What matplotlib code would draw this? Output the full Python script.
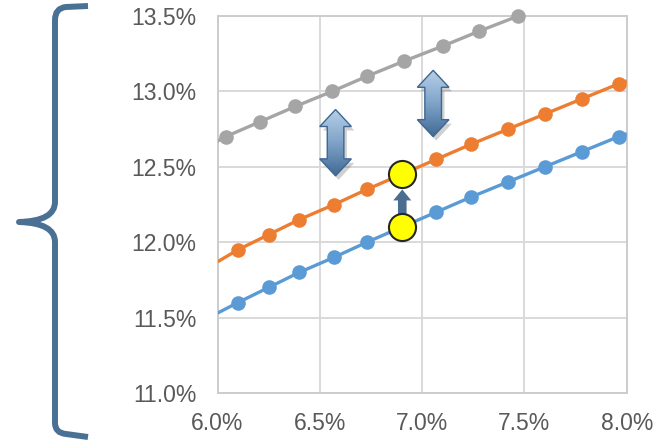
import matplotlib
matplotlib.use('Agg')
import numpy as np
import matplotlib.pyplot as plt
from matplotlib.patches import Polygon, PathPatch
from matplotlib.path import Path
from matplotlib.colors import LinearSegmentedColormap

# series (x and y in percent)
x_pts = [6.10, 6.25, 6.40, 6.57, 6.73, 6.90, 7.07, 7.24, 7.42, 7.60, 7.78, 7.96]
blue_y = [11.6, 11.7, 11.8, 11.9, 12.0, 12.1, 12.2, 12.3, 12.4, 12.5, 12.6, 12.7]
orange_y = [11.95, 12.05, 12.15, 12.25, 12.35, 12.45, 12.55, 12.65, 12.75, 12.85, 12.95, 13.05]
gray_x = [6.04, 6.21, 6.38, 6.56, 6.73, 6.91, 7.10, 7.28, 7.47]
gray_y = [12.7, 12.8, 12.9, 13.0, 13.1, 13.2, 13.3, 13.4, 13.5]
# where the lines meet the plot edges
blue_edge = [11.53, 12.72]
orange_edge = [11.87, 13.07]
gray_edge = [12.67]
hi_idx = 5   # highlighted point on blue / orange

x_ticks = [6.0, 6.5, 7.0, 7.5, 8.0]
y_ticks = [11.0, 11.5, 12.0, 12.5, 13.0, 13.5]

plt.rcParams['font.family'] = ['Liberation Sans', 'DejaVu Sans']

fig = plt.figure(figsize=(6.68, 4.46), dpi=100)
ax = fig.add_axes([0.3256, 0.1188, 0.6126, 0.8453])
ax.set_xlim(6.0, 8.0)
ax.set_ylim(11.0, 13.5)

gridc = '#d9d9d9'
ax.set_xticks(x_ticks)
ax.set_yticks(y_ticks)
ax.set_xticklabels(['%.1f%%' % v for v in x_ticks])
ax.set_yticklabels(['%.1f%%' % v for v in y_ticks])
ax.tick_params(length=0, labelsize=16.5, labelcolor='#595959')
ax.tick_params(axis='x', pad=14)
ax.tick_params(axis='y', pad=15)
ax.grid(True, color=gridc, lw=1.4)
ax.set_axisbelow(True)
for s in ax.spines.values():
    s.set_color('#cccccc')
    s.set_linewidth(1.4)

def series(xs, ys, edge_lo, edge_hi, color):
    lx = [6.0] + list(xs)
    ly = [edge_lo] + list(ys)
    if edge_hi is not None:
        lx.append(8.0)
        ly.append(edge_hi)
    ax.plot(lx, ly, color=color, lw=2.4, zorder=3, solid_capstyle='butt')
    ax.plot(xs, ys, 'o', color=color, ms=10.5, mec='none', zorder=4, clip_on=False)

series(x_pts, blue_y, blue_edge[0], blue_edge[1], '#5b9bd5')
series(x_pts, orange_y, orange_edge[0], orange_edge[1], '#ed7d31')
series(gray_x, gray_y, gray_edge[0], None, '#a5a5a5')

# highlighted points
ax.plot([x_pts[hi_idx]] * 2, [blue_y[hi_idx], orange_y[hi_idx]], 'o', color='#ffff00',
        ms=19.5, mec='#262626', mew=1.5, zorder=7, ls='none')

# arrows (x-units per px and y-units per px)
px = 2.0 / 409.0
py = 2.5 / 377.0
grad = LinearSegmentedColormap.from_list('g', ['#3f6a94', '#7fa3c8', '#b7cfe8'])

def arrow_pts(xc, y0, y1, hw, sw, hl, double=True):
    hw, sw = hw * px, sw * px
    hl = hl * py
    if double:
        return [(xc, y1), (xc + hw, y1 - hl), (xc + sw, y1 - hl), (xc + sw, y0 + hl),
                (xc + hw, y0 + hl), (xc, y0), (xc - hw, y0 + hl), (xc - sw, y0 + hl),
                (xc - sw, y1 - hl), (xc - hw, y1 - hl)]
    return [(xc, y1), (xc + hw, y1 - hl), (xc + sw, y1 - hl), (xc + sw, y0),
            (xc - sw, y0), (xc - sw, y1 - hl), (xc - hw, y1 - hl)]

def fancy_arrow(xc, y0, y1):
    pts = arrow_pts(xc, y0, y1, 15.8, 8.3, 17)
    sh = [(a + 3 * px, b - 4 * py) for a, b in pts]
    ax.add_patch(Polygon(sh, closed=True, fc='#000000', ec='none', alpha=0.18, zorder=5))
    poly = Polygon(pts, closed=True, fc='none', ec='#3d6690', lw=1.0, zorder=6.5)
    ax.add_patch(poly)
    hw = 16 * px
    im = ax.imshow(np.linspace(0, 1, 100).reshape(-1, 1), cmap=grad, aspect='auto',
                   extent=[xc - hw, xc + hw, y0, y1], origin='lower', zorder=6)
    im.set_clip_path(poly)

fancy_arrow(6.577, 12.44, 12.88)
fancy_arrow(7.054, 12.70, 13.14)

up = arrow_pts(x_pts[hi_idx] + 0.003, blue_y[hi_idx] + 0.05, 12.35, 9, 4.3, 11, double=False)
ax.add_patch(Polygon(up, closed=True, fc='#4a6e8f', ec='none', zorder=6))

ax.set_xlim(6.0, 8.0)
ax.set_ylim(11.0, 13.5)

# curly brace on the left, drawn in pixel coords (y down)
W, H = 668.0, 446.0
verts = [(88, 6), (66, 7), (55, 8), (55, 20), (55, 202), (55, 221), (19, 222),
         (55, 223), (55, 242), (55, 423), (55, 433), (66, 434), (88, 437)]
codes = [Path.MOVETO, Path.LINETO, Path.CURVE3, Path.CURVE3, Path.LINETO, Path.CURVE3,
         Path.CURVE3, Path.CURVE3, Path.CURVE3, Path.LINETO, Path.CURVE3, Path.CURVE3,
         Path.LINETO]
verts = [(a / W, 1 - b / H) for a, b in verts]
brace = PathPatch(Path(verts, codes), fc='none', ec='#4a7094', lw=4.3,
                  capstyle='butt', joinstyle='round', transform=fig.transFigure)
fig.patches.append(brace)

plt.savefig('out.png', dpi=100)
